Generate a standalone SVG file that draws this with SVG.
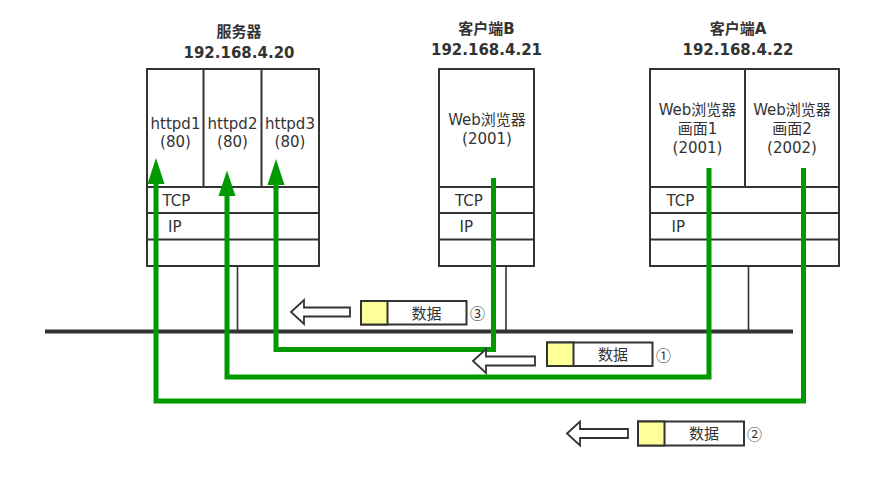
<svg xmlns="http://www.w3.org/2000/svg" width="882" height="477" viewBox="0 0 882 477">
<defs>
<style>
.box{fill:#fff;stroke:#333;stroke-width:2}
.ln{stroke:#333;stroke-width:2;fill:none}
.stem{stroke:#333;stroke-width:1.6;fill:none}
.bus{stroke:#333;stroke-width:4;fill:none}
.t{font-family:"DejaVu Sans","Noto Sans CJK SC",sans-serif;font-size:15px;fill:#333}
.tc{text-anchor:middle}
.h{font-family:"DejaVu Sans","Noto Sans CJK SC",sans-serif;font-size:15px;font-weight:bold;fill:#333;text-anchor:middle}
.g{stroke:#009900;stroke-width:5;fill:none}
.gh{fill:#009900}
.pk{fill:#fff;stroke:#333;stroke-width:2}
.yl{fill:#ffff99;stroke:#333;stroke-width:2}
.ha{fill:#fff;stroke:#333;stroke-width:1.8;stroke-linejoin:miter}
.n{font-family:"Noto Sans CJK SC","DejaVu Sans",sans-serif;font-size:15px;fill:#333}
</style>
</defs>
<rect width="882" height="477" fill="#fff"/>

<g id="network">
<line class="bus" x1="45" y1="331.5" x2="793" y2="331.5"/>
<line class="stem" x1="237.5" y1="266" x2="237.5" y2="330"/>
<line class="stem" x1="506" y1="266" x2="506" y2="330"/>
<line class="stem" x1="748.5" y1="266" x2="748.5" y2="330"/>
</g>

<g id="server">
<text class="h" x="239" y="37">服务器</text>
<text class="h" x="239" y="58">192.168.4.20</text>
<rect class="box" x="147" y="69" width="172" height="197"/>
<line class="ln" x1="203.5" y1="69" x2="203.5" y2="187"/>
<line class="ln" x1="261.5" y1="69" x2="261.5" y2="187"/>
<line class="ln" x1="147" y1="187" x2="319" y2="187"/>
<line class="ln" x1="147" y1="213" x2="319" y2="213"/>
<line class="ln" x1="147" y1="239.5" x2="319" y2="239.5"/>
<text class="t tc" x="175.5" y="129">httpd1</text>
<text class="t tc" x="175.5" y="147">(80)</text>
<text class="t tc" x="232.5" y="129">httpd2</text>
<text class="t tc" x="232.5" y="147">(80)</text>
<text class="t tc" x="290" y="129">httpd3</text>
<text class="t tc" x="290" y="147">(80)</text>
<text class="t" x="162.5" y="206">TCP</text>
<text class="t" x="168" y="232">IP</text>
</g>

<g id="clientB">
<text class="h" x="486.5" y="34">客户端B</text>
<text class="h" x="486.5" y="55">192.168.4.21</text>
<rect class="box" x="439" y="69" width="95" height="197"/>
<line class="ln" x1="439" y1="187" x2="534" y2="187"/>
<line class="ln" x1="439" y1="213" x2="534" y2="213"/>
<line class="ln" x1="439" y1="239.5" x2="534" y2="239.5"/>
<text class="t tc" x="487" y="125">Web浏览器</text>
<text class="t tc" x="487" y="144">(2001)</text>
<text class="t" x="455" y="206">TCP</text>
<text class="t" x="459.5" y="232">IP</text>
</g>

<g id="clientA">
<text class="h" x="738" y="34">客户端A</text>
<text class="h" x="738" y="55">192.168.4.22</text>
<rect class="box" x="650" y="69" width="189" height="197"/>
<line class="ln" x1="745" y1="69" x2="745" y2="187"/>
<line class="ln" x1="650" y1="187" x2="839" y2="187"/>
<line class="ln" x1="650" y1="213" x2="839" y2="213"/>
<line class="ln" x1="650" y1="239.5" x2="839" y2="239.5"/>
<text class="t tc" x="697.5" y="115">Web浏览器</text>
<text class="t tc" x="697.5" y="134">画面1</text>
<text class="t tc" x="697.5" y="153">(2001)</text>
<text class="t tc" x="792" y="115">Web浏览器</text>
<text class="t tc" x="792" y="134">画面2</text>
<text class="t tc" x="792" y="153">(2002)</text>
<text class="t" x="666.5" y="206">TCP</text>
<text class="t" x="671.5" y="232">IP</text>
</g>

<g id="connectors">
<polyline class="g" points="803.5,168 803.5,401 156,401 156,182"/>
<polygon class="gh" points="156,158 147.5,184 164.5,184"/>
<polyline class="g" points="709,168 709,377 227,377 227,194"/>
<polygon class="gh" points="227,170.5 218.5,196 235.5,196"/>
<polyline class="g" points="493.5,178 493.5,349.5 276,349.5 276,183"/>
<polygon class="gh" points="276,159 267.5,185 284.5,185"/>
</g>

<g id="packet3">
<polygon class="ha" points="291,312 304,300 304,307.5 350,307.5 350,316.5 304,316.5 304,324"/>
<rect class="pk" x="361" y="301" width="105.5" height="23.5"/>
<rect class="yl" x="361" y="301" width="26.5" height="23.5"/>
<text class="t tc" x="426.5" y="318.5">数据</text>
<text class="n" x="470" y="319">③</text>
</g>

<g id="packet1">
<polygon class="ha" points="473,361 486,349 486,356.5 535,356.5 535,365.5 486,365.5 486,373"/>
<rect class="pk" x="547" y="342.5" width="105.5" height="23.5"/>
<rect class="yl" x="547" y="342.5" width="26.5" height="23.5"/>
<text class="t tc" x="613" y="360">数据</text>
<text class="n" x="656" y="360.5">①</text>
</g>

<g id="packet2">
<polygon class="ha" points="567,433.5 580,421.5 580,429 628,429 628,438 580,438 580,445.5"/>
<rect class="pk" x="638" y="421.5" width="106" height="24"/>
<rect class="yl" x="638" y="421.5" width="26.5" height="24"/>
<text class="t tc" x="704" y="439">数据</text>
<text class="n" x="747" y="439.5">②</text>
</g>
</svg>
